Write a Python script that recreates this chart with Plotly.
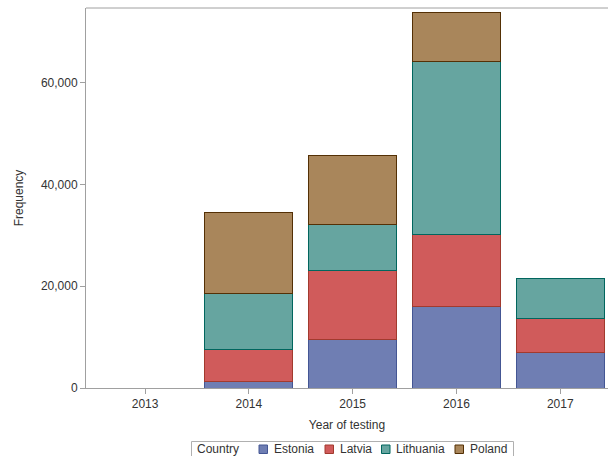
import plotly.graph_objects as go

years = ["2013", "2014", "2015", "2016", "2017"]
estonia = [None, 1180, 9580, 16010, 6885]
latvia = [None, 6295, 13510, 14080, 6765]
lithuania = [None, 11010, 9040, 34100, 7790]
poland = [None, 16010, 13580, 9500, None]

series = [
    ("Estonia", estonia, "#6F7EB3", "#445694"),
    ("Latvia", latvia, "#D05B5B", "#A23A2E"),
    ("Lithuania", lithuania, "#66A5A0", "#01665E"),
    ("Poland", poland, "#A9865B", "#543005"),
]

W, H = 608, 456
ML, MR, MT, MB = 86, 0, 8, 68
PW, PH = W - ML - MR, H - MT - MB


def px_x(p):
    return (p - ML) / PW


def px_y(p):
    return (H - MB - p) / PH


fig = go.Figure()
for name, vals, fill, line in series:
    fig.add_trace(go.Bar(
        x=years, y=vals, name=name, showlegend=False,
        marker=dict(color=fill, line=dict(color=line, width=1)),
    ))

axis_color = "#A0A0A0"
font_color = "#333333"

# legend drawn as layout decorations
shapes = [
    dict(type="line", xref="paper", yref="paper", x0=0, x1=1, y0=1, y1=1,
         line=dict(color=axis_color, width=1)),
    dict(type="rect", xref="paper", yref="paper",
         x0=px_x(191.5), x1=px_x(513.5), y0=px_y(441.5), y1=px_y(460),
         line=dict(color="#B0B0B0", width=1), fillcolor="rgba(0,0,0,0)"),
]
annotations = [
    dict(text="Country", xref="paper", yref="paper", x=px_x(194.5), y=px_y(449),
         xanchor="left", yanchor="middle", showarrow=False,
         font=dict(size=12, color=font_color)),
]
sq_left = [259, 325, 381.5, 455]
txt_left = [274, 340, 396, 470]
for (name, _, fill, line), sx, tx in zip(series, sq_left, txt_left):
    shapes.append(dict(type="rect", xref="paper", yref="paper",
                       x0=px_x(sx), x1=px_x(sx + 8.5), y0=px_y(445), y1=px_y(453.5),
                       line=dict(color=line, width=1), fillcolor=fill))
    annotations.append(dict(text=name, xref="paper", yref="paper", x=px_x(tx - 2), y=px_y(449),
                            xanchor="left", yanchor="middle", showarrow=False,
                            font=dict(size=12, color=font_color)))

fig.update_layout(
    width=W, height=H,
    barmode="stack", bargap=0.15,
    paper_bgcolor="white", plot_bgcolor="white",
    margin=dict(l=ML, r=MR, t=MT, b=MB),
    font=dict(family="Liberation Sans, Arial, sans-serif", size=12, color=font_color),
    xaxis=dict(
        type="category", categoryorder="array", categoryarray=years,
        range=[-0.569, 4.46],
        showline=True, linecolor=axis_color, linewidth=1,
        ticks="outside", ticklen=5, tickcolor=axis_color,
        showgrid=False, zeroline=False,
        title=dict(text="Year of testing", standoff=10, font=dict(size=12, color=font_color)),
        tickfont=dict(size=12, color=font_color),
    ),
    yaxis=dict(
        range=[0, 74670],
        tickvals=[0, 20000, 40000, 60000],
        tickformat=",",
        showline=True, linecolor=axis_color, linewidth=1,
        ticks="outside", ticklen=5, tickcolor=axis_color,
        showgrid=False, zeroline=False,
        title=dict(text="Frequency", standoff=14, font=dict(size=12, color=font_color)),
        tickfont=dict(size=12, color=font_color),
    ),
    showlegend=False,
    shapes=shapes,
    annotations=annotations,
)

fig.write_html("out.html", config={"displayModeBar": False},
               post_script="document.body.style.margin='0';document.body.style.overflow='hidden';")
